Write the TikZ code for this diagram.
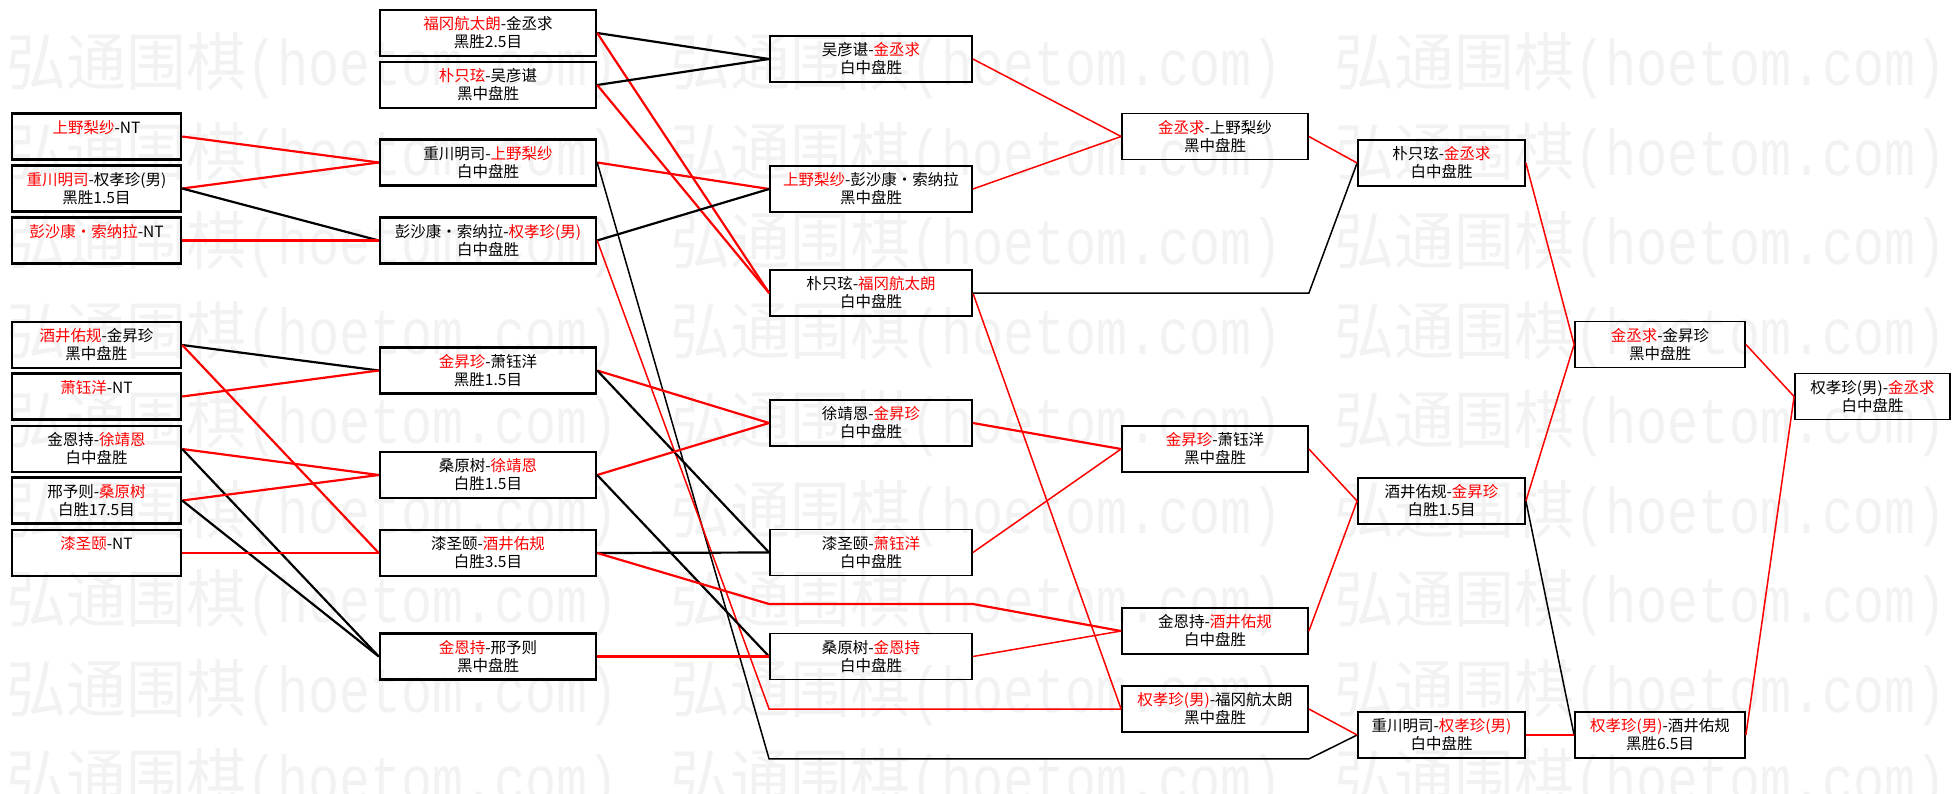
\documentclass[tikz,border=0pt]{standalone}
\usepackage{fontspec}
\setmainfont{Noto Sans CJK SC}
\newfontfamily\wmmono{Liberation Mono}
\begin{document}
\begin{tikzpicture}[x=1pt,y=-1pt]

      \tikzset{box/.style={draw, line width=2.4pt, minimum width=#1, minimum height=46pt, inner sep=0pt, align=center, font=\fontsize{15.5}{18}\selectfont},
               boxr/.style={box=#1, line width=1.8pt},
               win/.style={draw=red, line width=2.2pt},
               lose/.style={draw=black, line width=2.2pt},
               winr/.style={draw=red, line width=1.5pt},
               loser/.style={draw=black, line width=1.5pt},
               wm/.style={anchor=west, inner sep=0pt, text=black!5, font=\fontsize{60}{60}\selectfont}}

      \useasboundingbox (0,0) rectangle (1960,793);
      \clip (0,0) rectangle (1960,793);
%% Watermark
      \foreach \r in {0,...,8}
        \foreach \c in {0,1,2}
          \node[wm] (wm\r\c) at (6+664*\c, 66+89.5*\r) {\scalebox{1}[1.05]{弘通围棋}\scalebox{1}[1.25]{\wmmono\fontsize{51.7}{60}\selectfont (hoetom.com)}};
%% Vertices
      	\node[box=169] (n11) at (96.5,136.5) {\textcolor{red}{上野梨纱}-NT\\\phantom{白中盘胜}};
      	\node[box=169] (n12) at (96.5,188.5) {\textcolor{red}{重川明司}-权孝珍(男)\\黑胜1.5目};
      	\node[box=169] (n13) at (96.5,240.5) {\textcolor{red}{彭沙康・索纳拉}-NT\\\phantom{白中盘胜}};
      	\node[box=169] (n14) at (96.5,345) {\textcolor{red}{酒井佑规}-金昇珍\\黑中盘胜};
      	\node[box=169] (n15) at (96.5,396.5) {\textcolor{red}{萧钰洋}-NT\\\phantom{白中盘胜}};
      	\node[box=169] (n16) at (96.5,449) {金恩持-\textcolor{red}{徐靖恩}\\白中盘胜};
      	\node[box=169] (n17) at (96.5,500.5) {邢予则-\textcolor{red}{桑原树}\\白胜17.5目};
      	\node[box=169] (n18) at (96.5,553) {\textcolor{red}{漆圣颐}-NT\\\phantom{白中盘胜}};

      	\node[box=216] (n21) at (488,33) {\textcolor{red}{福冈航太朗}-金丞求\\黑胜2.5目};
      	\node[box=216] (n22) at (488,85) {\textcolor{red}{朴只玹}-吴彦谌\\黑中盘胜};
      	\node[box=216] (n23) at (488,162.5) {重川明司-\textcolor{red}{上野梨纱}\\白中盘胜};
      	\node[box=216] (n24) at (488,240.5) {彭沙康・索纳拉-\textcolor{red}{权孝珍(男)}\\白中盘胜};
      	\node[box=216] (n25) at (488,370.5) {\textcolor{red}{金昇珍}-萧钰洋\\黑胜1.5目};
      	\node[box=216] (n26) at (488,475) {桑原树-\textcolor{red}{徐靖恩}\\白胜1.5目};
      	\node[box=216] (n27) at (488,553) {漆圣颐-\textcolor{red}{酒井佑规}\\白胜3.5目};
      	\node[box=216] (n28) at (488,656.5) {\textcolor{red}{金恩持}-邢予则\\黑中盘胜};

      	\node[boxr=202] (n31) at (871,59) {吴彦谌-\textcolor{red}{金丞求}\\白中盘胜};
      	\node[boxr=202] (n32) at (871,189) {\textcolor{red}{上野梨纱}-彭沙康・索纳拉\\黑中盘胜};
      	\node[boxr=202] (n33) at (871,293) {朴只玹-\textcolor{red}{福冈航太朗}\\白中盘胜};
      	\node[boxr=202] (n34) at (871,423) {徐靖恩-\textcolor{red}{金昇珍}\\白中盘胜};
      	\node[boxr=202] (n35) at (871,552.5) {漆圣颐-\textcolor{red}{萧钰洋}\\白中盘胜};
      	\node[boxr=202] (n36) at (871,656.5) {桑原树-\textcolor{red}{金恩持}\\白中盘胜};

      	\node[boxr=186] (n41) at (1215,136.5) {\textcolor{red}{金丞求}-上野梨纱\\黑中盘胜};
      	\node[boxr=186] (n42) at (1215,449) {\textcolor{red}{金昇珍}-萧钰洋\\黑中盘胜};
      	\node[boxr=186] (n43) at (1215,631) {金恩持-\textcolor{red}{酒井佑规}\\白中盘胜};
      	\node[boxr=186] (n44) at (1215,709) {\textcolor{red}{权孝珍(男)}-福冈航太朗\\黑中盘胜};

      	\node[boxr=167] (n51) at (1441.5,163) {朴只玹-\textcolor{red}{金丞求}\\白中盘胜};
      	\node[boxr=167] (n52) at (1441.5,501) {酒井佑规-\textcolor{red}{金昇珍}\\白胜1.5目};
      	\node[boxr=167] (n53) at (1441.5,735) {重川明司-\textcolor{red}{权孝珍(男)}\\白中盘胜};

      	\node[boxr=170] (n61) at (1660,344.5) {\textcolor{red}{金丞求}-金昇珍\\黑中盘胜};
      	\node[boxr=170] (n62) at (1660,735) {\textcolor{red}{权孝珍(男)}-酒井佑规\\黑胜6.5目};

      	\node[boxr=155] (n71) at (1872.5,396.5) {权孝珍(男)-\textcolor{red}{金丞求}\\白中盘胜};

      	\coordinate (c1) at (871,604);
%Edges
		\path (n11.east) edge[win] (n23.west);
		\path (n12.east) edge[win] (n23.west);
		\path (n12.east) edge[lose] (n24.west);
		\path (n13.east) edge[win] (n24.west);
		\path (n14.east) edge[lose] (n25.west);
		\path (n14.east) edge[win] (n27.west);
		\path (n15.east) edge[win] (n25.west);
		\path (n16.east) edge[win] (n26.west);
		\path (n16.east) edge[lose] (n28.west);
		\path (n17.east) edge[win] (n26.west);
		\path (n17.east) edge[lose] (n28.west);
		\path (n18.east) edge[win] (n27.west);

		\path (n21.east) edge[lose] (n31.west);
		\path (n21.east) edge[win] (n33.west);
		\path (n22.east) edge[lose] (n31.west);
		\path (n22.east) edge[win] (n33.west);
		\path (n23.east) edge[win] (n32.west);
		\draw[loser] (n23.east) -- (n36.west |- n53.south) -- (n44.east |- n53.south) -- (n53.west);
		\path (n24.east) edge[lose] (n32.west);
		\draw[winr] (n24.east) -- (n36.west |- n44.west) -- (n44.west);
		\path (n25.east) edge[win] (n34.west);
		\path (n25.east) edge[lose] (n35.west);
		\path (n26.east) edge[win] (n34.west);
		\path (n26.east) edge[lose] (n36.west);
		\path (n27.east) edge[lose] (n35.west);
		\draw[win] (n27.east) -- (n35.west |- c1) -- (n35.east |- c1) -- (n43.west);
		\path (n28.east) edge[win] (n36.west);

		\path (n31.east) edge[winr] (n41.west);
		\path (n32.east) edge[winr] (n41.west);
		\path (n33.east) edge[winr] (n44.west);
		\draw[loser] (n33.east) -- (n41.east |- n33.east) -- (n51.west);
		\path (n34.east) edge[win] (n42.west);
		\path (n35.east) edge[winr] (n42.west);
		\path (n36.east) edge[winr] (n43.west);

		\path (n41.east) edge[winr] (n51.west);
		\path (n42.east) edge[winr] (n52.west);
		\path (n43.east) edge[winr] (n52.west);
		\path (n44.east) edge[winr] (n53.west);

		\path (n51.east) edge[winr] (n61.west);
		\path (n52.east) edge[winr] (n61.west);
		\path (n52.east) edge[loser] (n62.west);
		\path (n53.east) edge[winr] (n62.west);

		\path (n61.east) edge[winr] (n71.west);
		\path (n62.east) edge[winr] (n71.west);

	\end{tikzpicture}
\end{document}
